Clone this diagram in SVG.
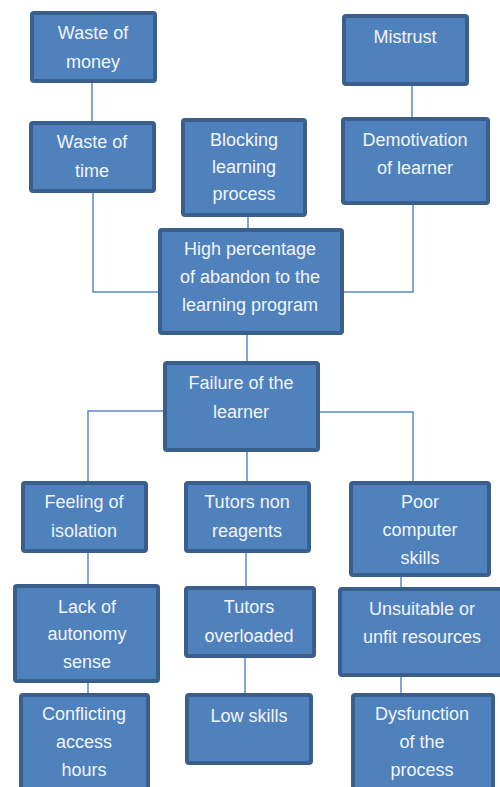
<svg xmlns="http://www.w3.org/2000/svg" width="500" height="787" viewBox="0 0 500 787">
<style>
.b rect{fill:#4F81BD;stroke:#3A5F8C;stroke-width:4;}
.b text{fill:#F2F5FA;font-family:"Liberation Sans",Arial,sans-serif;font-size:18px;text-anchor:middle;}
.c line,.c polyline{stroke:#5A8AC6;stroke-width:1.5;fill:none;}
</style>
<rect width="500" height="787" fill="#fff"/>
<g class="c" id="connectors">
<line x1="92" y1="83" x2="92" y2="121"/>
<line x1="412" y1="86" x2="412" y2="117"/>
<polyline points="93,193 93,292 158,292"/>
<polyline points="413,205 413,292 344,292"/>
<line x1="248" y1="217" x2="248" y2="228"/>
<line x1="247" y1="335" x2="247" y2="361"/>
<polyline points="163,411 88,411 88,481"/>
<polyline points="320,412 413,412 413,481"/>
<line x1="247" y1="452" x2="247" y2="481"/>
<line x1="88" y1="553" x2="88" y2="584"/>
<line x1="246" y1="553" x2="246" y2="586"/>
<line x1="401" y1="577" x2="401" y2="587"/>
<line x1="88" y1="683" x2="88" y2="693"/>
<line x1="245" y1="658" x2="245" y2="693"/>
<line x1="401" y1="677" x2="401" y2="693"/>
</g>
<g class="b" id="waste-money"><rect x="32" y="13" width="123" height="68" rx="2"/><text x="93" y="39">Waste of</text><text x="93" y="68">money</text></g>
<g class="b" id="waste-time"><rect x="31" y="123" width="123" height="68" rx="2"/><text x="92" y="148">Waste of</text><text x="92" y="177">time</text></g>
<g class="b" id="blocking"><rect x="183" y="120" width="122" height="95" rx="2"/><text x="244" y="146">Blocking</text><text x="244" y="173">learning</text><text x="244" y="200">process</text></g>
<g class="b" id="mistrust"><rect x="344" y="16" width="123" height="68" rx="2"/><text x="405" y="43">Mistrust</text></g>
<g class="b" id="demotivation"><rect x="343" y="119" width="145" height="84" rx="2"/><text x="415" y="146">Demotivation</text><text x="415" y="174">of learner</text></g>
<g class="b" id="high-percentage"><rect x="160" y="230" width="182" height="103" rx="2"/><text x="250" y="255">High percentage</text><text x="250" y="283">of abandon to the</text><text x="250" y="311">learning program</text></g>
<g class="b" id="failure"><rect x="165" y="363" width="153" height="87" rx="2"/><text x="241" y="389">Failure of the</text><text x="241" y="418">learner</text></g>
<g class="b" id="isolation"><rect x="23" y="483" width="123" height="68" rx="2"/><text x="84" y="508">Feeling of</text><text x="84" y="537">isolation</text></g>
<g class="b" id="tutors-non"><rect x="186" y="483" width="123" height="68" rx="2"/><text x="247" y="508">Tutors non</text><text x="247" y="537">reagents</text></g>
<g class="b" id="computer"><rect x="351" y="483" width="138" height="92" rx="2"/><text x="420" y="508">Poor</text><text x="420" y="536">computer</text><text x="420" y="564">skills</text></g>
<g class="b" id="autonomy"><rect x="15" y="586" width="143" height="95" rx="2"/><text x="87" y="613">Lack of</text><text x="87" y="640">autonomy</text><text x="87" y="668">sense</text></g>
<g class="b" id="overloaded"><rect x="186" y="588" width="128" height="68" rx="2"/><text x="249" y="613">Tutors</text><text x="249" y="642">overloaded</text></g>
<g class="b" id="unsuitable"><rect x="340" y="589" width="164" height="86" rx="2"/><text x="422" y="615">Unsuitable or</text><text x="422" y="643">unfit resources</text></g>
<g class="b" id="conflicting"><rect x="21" y="695" width="127" height="100" rx="2"/><text x="84" y="720">Conflicting</text><text x="84" y="748">access</text><text x="84" y="776">hours</text></g>
<g class="b" id="low-skills"><rect x="187" y="695" width="124" height="68" rx="2"/><text x="249" y="722">Low skills</text></g>
<g class="b" id="dysfunction"><rect x="353" y="695" width="140" height="100" rx="2"/><text x="422" y="720">Dysfunction</text><text x="422" y="748">of the</text><text x="422" y="776">process</text></g>
</svg>
